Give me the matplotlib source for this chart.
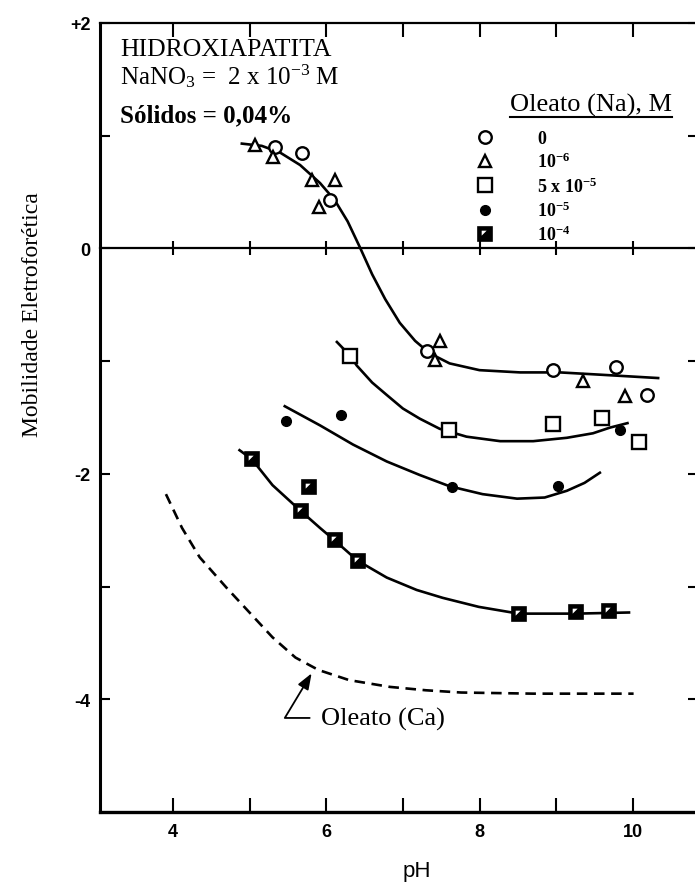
import matplotlib
matplotlib.use("Agg")
import matplotlib.pyplot as plt
from matplotlib.lines import Line2D
from matplotlib.transforms import IdentityTransform

plt.rcParams["font.family"] = ["Liberation Serif", "DejaVu Serif"]
plt.rcParams["mathtext.fontset"] = "custom"
plt.rcParams["mathtext.rm"] = "Liberation Serif"
plt.rcParams["mathtext.it"] = "Liberation Serif:italic"
plt.rcParams["mathtext.bf"] = "Liberation Serif:bold"

# measured points, one pair of lists per oleato (Na) concentration
ph_0 = [5.33, 5.68, 6.05, 7.31, 8.96, 9.78, 10.18]
mob_0 = [0.90, 0.85, 0.43, -0.91, -1.08, -1.05, -1.30]

ph_1e6 = [5.07, 5.30, 5.81, 6.12, 5.90, 7.48, 7.42, 9.35, 9.90]
mob_1e6 = [0.92, 0.81, 0.61, 0.61, 0.37, -0.82, -0.99, -1.18, -1.31]

ph_5e5 = [6.31, 7.60, 8.96, 9.60, 10.08]
mob_5e5 = [-0.95, -1.61, -1.56, -1.50, -1.72]

ph_1e5 = [5.47, 6.19, 7.64, 9.03, 9.83]
mob_1e5 = [-1.53, -1.48, -2.12, -2.11, -1.61]

ph_1e4 = [5.03, 5.77, 5.67, 6.11, 6.41, 8.51, 9.26, 9.69]
mob_1e4 = [-1.87, -2.12, -2.33, -2.59, -2.77, -3.24, -3.23, -3.22]

# hand drawn curves
fit_0_ph = [4.90, 5.16, 5.40, 5.66, 5.92, 6.11, 6.28, 6.44, 6.60, 6.77, 6.96,
            7.16, 7.35, 7.61, 8.00, 8.53, 9.05, 9.57, 10.33]
fit_0_mob = [0.93, 0.91, 0.85, 0.74, 0.58, 0.43, 0.24, 0.01, -0.23, -0.45, -0.66,
             -0.82, -0.93, -1.02, -1.08, -1.10, -1.10, -1.12, -1.15]

fit_5e5_ph = [6.14, 6.31, 6.40, 6.60, 6.79, 7.00, 7.22, 7.48, 7.83, 8.27, 8.70,
              9.14, 9.48, 9.70, 9.93]
fit_5e5_mob = [-0.83, -0.95, -1.04, -1.19, -1.30, -1.42, -1.51, -1.60, -1.67, -1.71,
               -1.71, -1.68, -1.64, -1.59, -1.55]

fit_1e5_ph = [5.46, 5.92, 6.35, 6.79, 7.22, 7.61, 8.04, 8.49, 8.85, 9.14, 9.37, 9.57]
fit_1e5_mob = [-1.40, -1.57, -1.74, -1.89, -2.01, -2.11, -2.18, -2.22, -2.21, -2.15,
               -2.08, -1.99]

fit_1e4_ph = [4.87, 5.03, 5.30, 5.67, 5.92, 6.11, 6.41, 6.79, 7.18, 7.52, 7.99,
              8.51, 9.26, 9.95]
fit_1e4_mob = [-1.79, -1.87, -2.10, -2.33, -2.48, -2.59, -2.77, -2.92, -3.03, -3.10,
               -3.18, -3.24, -3.24, -3.23]

ca_ph = [3.91, 4.12, 4.35, 4.70, 5.00, 5.30, 5.60, 5.90, 6.30, 6.83, 7.30, 7.76,
         8.70, 10.01]
ca_mob = [-2.18, -2.48, -2.74, -3.01, -3.23, -3.45, -3.63, -3.74, -3.83, -3.89,
          -3.92, -3.94, -3.95, -3.95]

legend_labels = ["0", r"10$^{\mathbf{-6}}$", r"5 x 10$^{\mathbf{-5}}$",
                 r"10$^{\mathbf{-5}}$", r"10$^{\mathbf{-4}}$"]

x_ticks = [4, 5, 6, 7, 8, 9, 10]
x_labels = ["4", "", "6", "", "8", "", "10"]
y_ticks = [-4, -3, -2, -1, 0, 1, 2]
y_labels = ["-4", "", "-2", "", "0", "", "+2"]

W, H = 695, 887
fig = plt.figure(figsize=(W / 100, H / 100), dpi=100)
ax = fig.add_axes([100 / W, 1 - 813 / H, 598 / W, 789 / H])
ax.set_xlim(3.05, 10.85)
ax.set_ylim(-5, 2)

# curves
ax.plot(fit_0_ph, fit_0_mob, color="black", lw=1.9)
ax.plot(fit_5e5_ph, fit_5e5_mob, color="black", lw=1.9)
ax.plot(fit_1e5_ph, fit_1e5_mob, color="black", lw=1.9)
ax.plot(fit_1e4_ph, fit_1e4_mob, color="black", lw=1.9)
ax.plot(ca_ph, ca_mob, color="black", lw=1.9, dashes=(4, 2.5))

# points
h0, = ax.plot(ph_0, mob_0, "o", ms=9, mfc="white", mec="black", mew=1.7, zorder=5)
h1, = ax.plot(ph_1e6, mob_1e6, "^", ms=8, mfc="white", mec="black", mew=1.7, zorder=5)
h2, = ax.plot(ph_5e5, mob_5e5, "s", ms=9.5, mfc="white", mec="black", mew=1.7, zorder=5)
h3, = ax.plot(ph_1e5, mob_1e5, "o", ms=7, mfc="black", mec="black", zorder=5)
h4a, = ax.plot(ph_1e4, mob_1e4, "s", ms=9.5, mfc="black", mec="black", mew=1.2, zorder=5)
wedge = [(-1, -0.3), (0.3, 1), (-1, 1)]
h4b, = ax.plot(ph_1e4, mob_1e4, ls="none", marker=wedge, ms=5.5, mfc="white",
               mec="white", mew=0, zorder=6)

# axes styling
ax.spines["right"].set_visible(False)
ax.spines["left"].set_linewidth(2.2)
ax.spines["bottom"].set_linewidth(2.4)
ax.spines["top"].set_linewidth(1.6)

ax.set_xticks(x_ticks, x_labels)
ax.set_yticks(y_ticks, y_labels)
ax.tick_params(axis="x", direction="in", length=10, width=1.5, top=True, pad=8)
ax.tick_params(axis="y", direction="in", length=7.5, width=1.5, right=True, pad=7)
for lab in ax.get_xticklabels() + ax.get_yticklabels():
    lab.set_fontfamily("Liberation Sans")
    lab.set_fontweight("bold")
    lab.set_fontsize(13)

# zero line with ticks crossing it
ylo, yhi = ax.get_ylim()
zero_ax = ax.secondary_xaxis((0 - ylo) / (yhi - ylo))
zero_ax.set_xticks(x_ticks)
zero_ax.tick_params(direction="inout", length=10, width=1.5, labelbottom=False,
                    labeltop=False)
for sp in zero_ax.spines.values():
    sp.set_linewidth(1.6)

# labels
fig.text(33 / W, 1 - 315 / H, "Mobilidade Eletroforética", rotation=90,
         ha="center", va="center", fontsize=17)
fig.text(417 / W, 1 - 872 / H, "pH", ha="center", va="center", fontsize=16,
         family="Liberation Sans")

# info text
ax.text(3.31, 1.72, "HIDROXIAPATITA", fontsize=18.5, va="baseline")
ax.text(3.31, 1.46, r"NaNO$_3$ =  2 x 10$^{-3}$ M", fontsize=18, va="baseline")
ax.text(3.31, 1.13, "Sólidos = 0,04%", fontsize=18, fontweight="bold", va="baseline")

# legend
title = ax.text(8.40, 1.22, "Oleato (Na), M", fontsize=19, va="baseline")
leg = ax.legend([h0, h1, h2, h3, (h4a, h4b)], legend_labels, loc="upper left",
                bbox_to_anchor=(476 / W, 1 - 131 / H), bbox_transform=fig.transFigure,
                frameon=False, prop={"family": "Liberation Serif", "weight": "bold",
                                     "size": 13},
                handlelength=1.0, handletextpad=2.4, labelspacing=0.27,
                borderpad=0, borderaxespad=0, numpoints=1)

fig.canvas.draw()
bb = title.get_window_extent()
fig.add_artist(Line2D([bb.x0, bb.x1], [bb.y0 - 1, bb.y0 - 1], color="black",
                      lw=1.5, transform=IdentityTransform()))

# calcium oleate annotation
ax.annotate("Oleato (Ca)", xy=(5.81, -3.77), xytext=(5.93, -4.22), fontsize=19,
            ha="left", va="baseline",
            arrowprops=dict(arrowstyle="-|>,head_length=0.8,head_width=0.3",
                            color="black", lw=1.3, mutation_scale=12,
                            connectionstyle="angle,angleA=180,angleB=59,rad=0",
                            relpos=(0, 0.5), shrinkA=6, shrinkB=0))

fig.savefig("out.png", dpi=100)
